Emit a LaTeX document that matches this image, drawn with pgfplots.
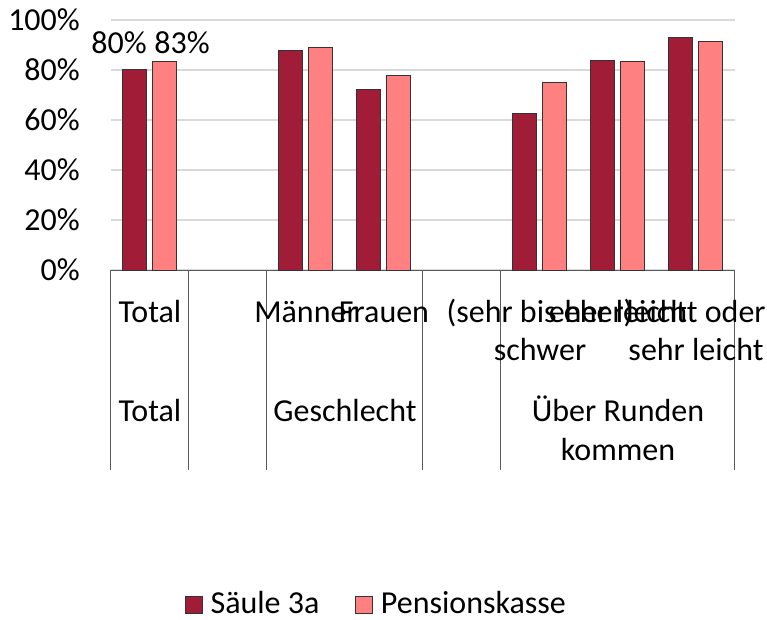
\documentclass[border=0pt]{standalone}
\usepackage{fontspec}
\setmainfont{Carlito}
\usepackage{pgfplots}
\pgfplotsset{compat=1.18}
\definecolor{saeule}{RGB}{160,28,55}
\definecolor{pk}{RGB}{255,128,128}
\definecolor{gridc}{RGB}{217,217,217}
\definecolor{sepc}{RGB}{90,90,90}
\begin{document}
\fontsize{32bp}{38bp}\selectfont
\begin{tikzpicture}
\begin{axis}[
  name=ax,
  scale only axis,
  width=624bp, height=250bp,
  xmin=0, xmax=8, ymin=0, ymax=100,
  ybar=6bp, bar width=24bp,
  axis x line*=bottom, axis y line*=left,
  x axis line style={draw=sepc, line width=1bp, -},
  y axis line style={draw=none},
  xtick=\empty,
  ytick={0,20,40,60,80,100},
  yticklabels={0\%,20\%,40\%,60\%,80\%,100\%},
  ytick style={draw=none},
  yticklabel style={font=\fontsize{32bp}{38bp}\selectfont, anchor=east, inner sep=0pt, xshift=-31bp},
  ymajorgrids, grid style={gridc, line width=1.5bp},
  clip=false,
  legend style={at={(0.4255,-1.34)}, anchor=center, draw=none, legend columns=2,
    font=\fontsize{32bp}{38bp}\selectfont,
    /tikz/every even column/.append style={column sep=34bp}},
  legend image code/.code={\draw[#1] (0bp,-8.5bp) rectangle (17bp,8.5bp); \path[draw=none,fill=none] (0bp,0bp) (23bp,0bp);},
]
\addplot[fill=saeule, draw=black!80, line width=1bp] coordinates {(0.5,80.2) (2.5,87.8) (3.5,72.3) (5.5,62.6) (6.5,83.7) (7.5,93.1)};
\addplot[fill=pk, draw=black!80, line width=1bp] coordinates {(0.5,83.4) (2.5,88.9) (3.5,77.8) (5.5,75.2) (6.5,83.3) (7.5,91.3)};
\legend{Säule 3a, Pensionskasse}
% data labels
\node[anchor=base, inner sep=0pt] at (axis cs:0.103,86.8) {80\%};
\node[anchor=base, inner sep=0pt] at (axis cs:0.910,86.8) {83\%};
% separators
\pgfplotsinvokeforeach{0,1,2,4,5,8}{
  \draw[sepc, line width=1bp] (axis cs:#1,0) -- ++(0,-200bp);
}
% row 1 labels
\node[anchor=base, inner sep=0pt] at ([yshift=-52bp]axis cs:0.5,0) {Total};
\node[anchor=base, inner sep=0pt] at ([yshift=-52bp]axis cs:2.5,0) {Männer};
\node[anchor=base, inner sep=0pt] at ([yshift=-52bp]axis cs:3.5,0) {Frauen};
\node[anchor=base, inner sep=0pt] at ([yshift=-52bp]axis cs:5.5,0) {(sehr bis eher)};
\node[anchor=base, inner sep=0pt] at ([yshift=-90bp]axis cs:5.5,0) {schwer};
\node[anchor=base, inner sep=0pt] at ([yshift=-52bp]axis cs:6.5,0) {eher leicht};
\node[anchor=base, inner sep=0pt] at ([yshift=-52bp]axis cs:7.5,0) {leicht oder};
\node[anchor=base, inner sep=0pt] at ([yshift=-90bp]axis cs:7.5,0) {sehr leicht};
% row 2 labels
\node[anchor=base, inner sep=0pt] at ([yshift=-151bp]axis cs:0.5,0) {Total};
\node[anchor=base, inner sep=0pt] at ([yshift=-151bp]axis cs:3,0) {Geschlecht};
\node[anchor=base, inner sep=0pt] at ([yshift=-151bp]axis cs:6.5,0) {Über Runden};
\node[anchor=base, inner sep=0pt] at ([yshift=-190bp]axis cs:6.5,0) {kommen};
\end{axis}
\pgfresetboundingbox
\path (ax.south west) ++(-111bp,-350bp) rectangle ++(767bp,620bp);
\end{tikzpicture}
\end{document}
